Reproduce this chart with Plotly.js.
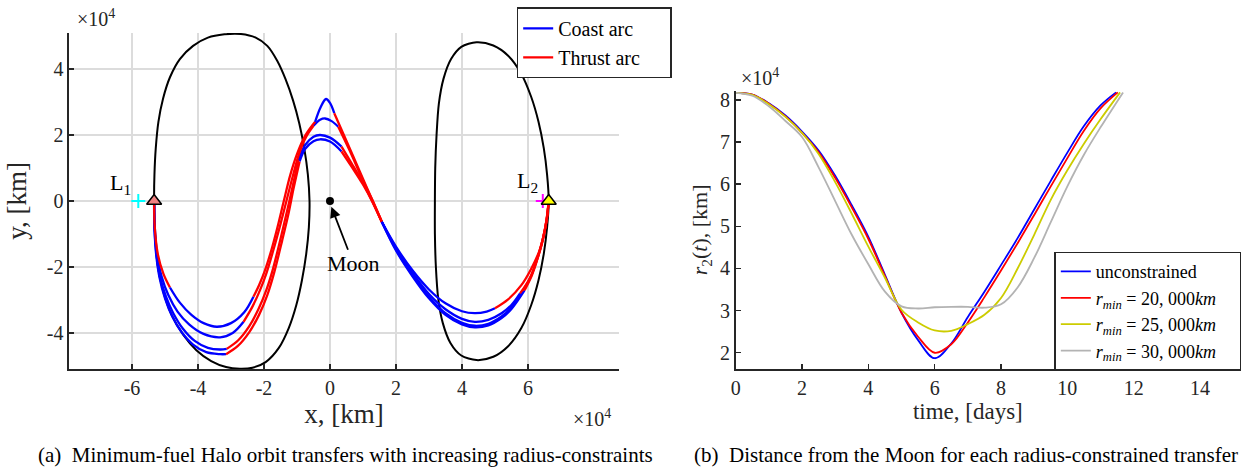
<!DOCTYPE html>
<html>
<head>
<meta charset="utf-8">
<script src="https://cdn.plot.ly/plotly-3.0.1.min.js"></script>
<style>html,body{margin:0;padding:0;background:#fff;}#chart{width:1255px;height:472px;}</style>
</head>
<body>
<div id="chart"></div>
<script>
// ---------- (a) data, units of 1e4 km ----------
const haloL1X = [-5.33,-5.32,-5.28,-5.20,-5.06,-4.85,-4.55,-4.15,-3.70,-3.20,-2.70,-2.25,-1.90,-1.60,-1.35,-1.12,-0.93,-0.78,-0.67,-0.62,-0.64,-0.72,-0.85,-1.02,-1.25,-1.55,-1.95,-2.35,-2.73,-3.15,-3.60,-4.05,-4.45,-4.80,-5.05,-5.22,-5.30,-5.33];
const haloL1Y = [0,0.80,1.60,2.40,3.10,3.75,4.30,4.70,4.95,5.05,5.06,4.95,4.70,4.25,3.70,3.05,2.35,1.60,0.80,0,-0.80,-1.60,-2.40,-3.15,-3.85,-4.45,-4.88,-5.05,-5.08,-5.03,-4.85,-4.52,-4.05,-3.45,-2.75,-1.95,-1.00,0];
const haloL2X = [6.63,6.58,6.48,6.32,6.10,5.80,5.40,4.95,4.44,3.98,3.65,3.42,3.28,3.21,3.18,3.18,3.19,3.23,3.30,3.44,3.67,3.98,4.44,4.95,5.40,5.80,6.10,6.32,6.48,6.58,6.63];
const haloL2Y = [0,-0.80,-1.60,-2.40,-3.15,-3.85,-4.40,-4.72,-4.82,-4.68,-4.30,-3.70,-2.95,-2.00,-1.00,0,1.00,2.00,2.95,3.70,4.30,4.67,4.81,4.71,4.40,3.85,3.15,2.40,1.60,0.80,0];

// each transfer: points, plus run-length list of arc types (C = coast, T = thrust)
const transferAX = [-5.33,-5.32,-5.27,-5.17,-5.00,-4.78,-4.50,-4.15,-3.75,-3.33,-3.15,-2.80,-2.45,-2.15,-1.90,-1.70,-1.45,-1.25,-1.10,-0.92,-0.75,-0.50,-0.30,0.00,0.35,0.65,1.00,1.30,1.57,2.00,2.50,3.00,3.50,4.00,4.39,4.80,5.20,5.50,5.90,6.12,6.30,6.46,6.57,6.63];
const transferAY = [0,-0.80,-1.60,-2.30,-2.95,-3.50,-3.97,-4.35,-4.58,-4.64,-4.64,-4.40,-3.98,-3.45,-2.85,-2.20,-1.20,-0.35,0.40,1.20,1.58,1.81,1.87,1.80,1.50,1.05,0.50,-0.05,-0.63,-1.50,-2.28,-2.95,-3.45,-3.74,-3.83,-3.77,-3.55,-3.27,-2.70,-2.25,-1.72,-1.12,-0.55,0];
const transferAArcs = ['C','T','C','T','C','T'];
const transferALens = [10,9,5,4,10,6];

const transferBX = [-5.33,-5.32,-5.26,-5.15,-4.97,-4.75,-4.45,-4.10,-3.70,-3.33,-3.13,-2.78,-2.45,-2.17,-1.93,-1.74,-1.50,-1.30,-1.13,-0.96,-0.75,-0.50,-0.30,0.00,0.35,0.65,1.00,1.30,1.57,2.00,2.50,3.00,3.50,4.00,4.39,4.80,5.20,5.50,5.85,6.10,6.28,6.45,6.57,6.63];
const transferBY = [0,-0.80,-1.60,-2.30,-2.90,-3.40,-3.88,-4.24,-4.45,-4.50,-4.48,-4.22,-3.80,-3.28,-2.70,-2.10,-1.15,-0.30,0.45,1.24,1.70,1.95,2.00,1.92,1.65,1.15,0.55,-0.05,-0.63,-1.47,-2.24,-2.90,-3.40,-3.69,-3.78,-3.72,-3.50,-3.22,-2.72,-2.25,-1.75,-1.15,-0.55,0];
const transferBArcs = ['C','T','C','T','C','T'];
const transferBLens = [10,9,5,4,10,6];

const transferCX = [-5.33,-5.31,-5.24,-5.10,-4.90,-4.62,-4.27,-3.85,-3.33,-2.95,-2.62,-2.35,-2.12,-1.93,-1.72,-1.50,-1.32,-1.12,-0.93,-0.72,-0.50,-0.30,-0.15,0.05,0.25,0.60,1.00,1.30,1.57,2.00,2.50,3.00,3.50,4.00,4.39,4.80,5.20,5.50,5.76,6.06,6.25,6.42,6.55,6.63];
const transferCY = [0,-0.80,-1.60,-2.30,-2.85,-3.35,-3.74,-4.02,-4.13,-4.00,-3.66,-3.20,-2.70,-2.20,-1.50,-0.70,0.00,0.78,1.45,1.95,2.28,2.46,2.50,2.42,2.25,1.52,0.62,0.00,-0.63,-1.43,-2.18,-2.82,-3.28,-3.57,-3.66,-3.60,-3.40,-3.15,-2.80,-2.34,-1.85,-1.30,-0.65,0];
const transferCArcs = ['C','T','C','T','C','T'];
const transferCLens = [10,10,4,4,10,6];

const transferDX = [-5.33,-5.31,-5.22,-5.05,-4.85,-4.55,-4.20,-3.83,-3.43,-3.00,-2.60,-2.32,-2.15,-1.97,-1.78,-1.58,-1.40,-1.20,-1.00,-0.75,-0.45,-0.28,-0.12,0.00,0.13,0.50,0.90,1.25,1.57,2.00,2.50,3.00,3.50,4.00,4.39,4.75,5.00,5.40,5.80,6.10,6.35,6.52,6.60,6.63];
const transferDY = [0,-0.80,-1.60,-2.20,-2.62,-3.08,-3.45,-3.70,-3.81,-3.70,-3.37,-2.90,-2.55,-2.10,-1.50,-0.75,0.00,0.80,1.42,1.98,2.40,2.85,3.09,2.97,2.66,1.82,0.90,0.10,-0.63,-1.38,-2.10,-2.68,-3.10,-3.34,-3.40,-3.35,-3.25,-2.98,-2.55,-2.05,-1.50,-0.85,-0.30,0];
const transferDArcs = ['T','C','T','C','T','C','T'];
const transferDLens = [4,7,9,4,4,8,8];

const lagrangeX = [-5.33, 6.63];
const lagrangeY = [0, 0];
const lagrangeNames = ['L<sub>1</sub>', 'L<sub>2</sub>'];
const moonX = [0.0], moonY = [0.0];
const xTicksA = [-6,-4,-2,0,2,4,6];
const xTickTextA = ['-6','-4','-2','0','2','4','6'];
const yTicksA = [-4,-2,0,2,4];
const yTickTextA = ['-4','-2','0','2','4'];
const legendNamesA = ['Coast arc', 'Thrust arc'];

// ---------- (b) data, r2 in units of 1e4 km ----------
const timeUnc = [0,0.5,1,1.5,2,2.5,3,3.5,4,4.5,5,5.5,6,6.5,7,7.5,8,8.5,9,9.5,10,10.5,11,11.47];
const r2Unc   = [8.17,8.13,7.92,7.63,7.25,6.80,6.20,5.50,4.75,3.85,2.95,2.30,1.87,2.22,2.85,3.45,4.08,4.72,5.40,6.08,6.75,7.38,7.87,8.18];
const time20  = [0,0.5,1,1.5,2,2.5,3,3.5,4,4.5,5,5.5,6,6.5,7,7.5,8,8.5,9,9.5,10,10.5,11,11.52];
const r2_20   = [8.17,8.13,7.91,7.61,7.22,6.76,6.15,5.45,4.70,3.82,2.95,2.38,2.00,2.20,2.72,3.32,3.95,4.60,5.27,5.95,6.62,7.27,7.80,8.18];
const time25  = [0,0.5,1,1.5,2,2.5,3,3.5,4,4.5,5,5.5,6,6.5,7,7.5,8,8.5,9,9.5,10,10.5,11,11.59];
const r2_25   = [8.17,8.12,7.90,7.60,7.22,6.72,6.05,5.30,4.52,3.78,3.02,2.72,2.53,2.52,2.68,2.90,3.30,4.00,4.80,5.63,6.33,6.96,7.54,8.18];
const time30  = [0,0.5,1,1.5,2,2.5,3,3.5,4,4.5,5,5.5,6,6.5,7,7.5,8,8.5,9,9.5,10,10.5,11,11.68];
const r2_30   = [8.17,8.10,7.85,7.50,7.12,6.40,5.60,4.80,4.10,3.45,3.10,3.05,3.08,3.09,3.09,3.07,3.15,3.55,4.25,5.10,5.95,6.70,7.35,8.18];
const seriesNamesB = ['unconstrained',
  '<i>r</i><sub><i>min</i></sub> = 20, 000<i>km</i>',
  '<i>r</i><sub><i>min</i></sub> = 25, 000<i>km</i>',
  '<i>r</i><sub><i>min</i></sub> = 30, 000<i>km</i>'];
const seriesColorsB = ['#0000ff','#ff0000','#cccc00','#b3b3b3'];
const xTicksB = [0,2,4,6,8,10,12,14];
const yTicksB = [2,3,4,5,6,7,8];

// ---------- build traces ----------
const COAST = '#0000ff', THRUST = '#ff0000', AXC = '#262626';
const PAD_A = '\u00a0\u00a0\u00a0\u00a0\u00a0';
const PAD_B = '\u00a0\u00a0\u00a0\u00a0';
function splitArcs(xs, ys, types, lens) {
  const arc = [];
  types.forEach((t, k) => { for (let j = 0; j < lens[k]; j++) arc.push(t); });
  const runs = []; let cur = null;
  for (let i = 0; i < xs.length - 1; i++) {
    if (!cur || cur.type !== arc[i]) { cur = {type: arc[i], x: [xs[i]], y: [ys[i]]}; runs.push(cur); }
    cur.x.push(xs[i + 1]); cur.y.push(ys[i + 1]);
  }
  return runs;
}
const traces = [];
[[haloL1X, haloL1Y], [haloL2X, haloL2Y]].forEach(([x, y]) => {
  traces.push({x: x, y: y, mode: 'lines', line: {color: '#000', width: 2, shape: 'spline', smoothing: 0.8}, showlegend: false, hoverinfo: 'skip'});
});
let coastShown = false, thrustShown = false;
[[transferAX, transferAY, transferAArcs, transferALens], [transferBX, transferBY, transferBArcs, transferBLens],
 [transferCX, transferCY, transferCArcs, transferCLens], [transferDX, transferDY, transferDArcs, transferDLens]].forEach(([xs, ys, types, lens]) => {
  splitArcs(xs, ys, types, lens).forEach(run => {
    const isCoast = run.type === 'C';
    let show = false;
    if (isCoast && !coastShown) { show = true; coastShown = true; }
    if (!isCoast && !thrustShown) { show = true; thrustShown = true; }
    traces.push({x: run.x, y: run.y, mode: 'lines', name: (isCoast ? legendNamesA[0] : legendNamesA[1]) + PAD_A,
      legendgroup: isCoast ? 'coast' : 'thrust', legendrank: isCoast ? 1 : 2, showlegend: show, legend: 'legend',
      line: {color: isCoast ? COAST : THRUST, width: 2.3, shape: 'spline', smoothing: 1}, hoverinfo: 'skip'});
  });
});
traces.push({x: [-5.81], y: [0], mode: 'markers', marker: {symbol: 'cross-thin', size: 10, line: {color: '#00ffff', width: 2}}, showlegend: false});
traces.push({x: [6.45], y: [0], mode: 'markers', marker: {symbol: 'cross-thin', size: 10, line: {color: '#ff00ff', width: 2}}, showlegend: false});
traces.push({x: lagrangeX, y: lagrangeY, mode: 'markers', marker: {symbol: 'triangle-up', size: 13, color: ['#f08080', '#ffff00'], line: {color: '#000', width: 1.5}}, showlegend: false});
traces.push({x: moonX, y: moonY, mode: 'markers', marker: {symbol: 'circle', size: 8, color: '#000'}, showlegend: false});

[[timeUnc, r2Unc], [time20, r2_20], [time25, r2_25], [time30, r2_30]].forEach(([t, r], i) => {
  traces.push({x: t, y: r, xaxis: 'x2', yaxis: 'y2', mode: 'lines', name: seriesNamesB[i] + PAD_B, legend: 'legend2',
    line: {color: seriesColorsB[i], width: 1.8, shape: 'spline', smoothing: 1}, hoverinfo: 'skip'});
});

const axisCommon = {ticks: 'inside', ticklen: 5, tickwidth: 1.5, tickcolor: AXC, showline: true, linecolor: AXC,
  linewidth: 1.6, zeroline: false, mirror: false, tickfont: {size: 20, color: AXC}, fixedrange: true};

function paperNote(px, py, text, size, color) {
  return {x: px / 1255, y: 1 - py / 472, xref: 'paper', yref: 'paper', xanchor: 'center', yanchor: 'middle',
    text: text, showarrow: false, font: {size: size, color: color}};
}

const layout = {
  width: 1255, height: 472, autosize: false, margin: {l: 0, r: 0, t: 0, b: 0},
  paper_bgcolor: '#ffffff', plot_bgcolor: 'rgba(0,0,0,0)',
  font: {family: '"Liberation Serif", "Times New Roman", serif', color: AXC},
  showlegend: true,
  xaxis: Object.assign({}, axisCommon, {domain: [0.05498, 0.49323], range: [-7.91, 8.76], anchor: 'y',
    tickmode: 'array', tickvals: xTicksA, ticktext: xTickTextA, showgrid: true, gridcolor: '#dcdcdc', gridwidth: 1.5,
    title: {text: 'x, [km]', font: {size: 27, color: AXC}, standoff: 5}}),
  yaxis: Object.assign({}, axisCommon, {domain: [0.21822, 0.93008], range: [-5.09, 5.09], anchor: 'x',
    tickmode: 'array', tickvals: yTicksA, ticktext: yTickTextA, showgrid: true, gridcolor: '#dcdcdc', gridwidth: 1.5,
    title: {text: 'y, [km]', font: {size: 27, color: AXC}, standoff: 12}}),
  xaxis2: Object.assign({}, axisCommon, {domain: [0.58622, 0.95618], range: [0, 14], anchor: 'y2',
    tickmode: 'array', tickvals: xTicksB, showgrid: false,
    title: {text: 'time, [days]', font: {size: 23, color: AXC}, standoff: 5}}),
  yaxis2: Object.assign({}, axisCommon, {domain: [0.21822, 0.80784], range: [1.614, 8.22], anchor: 'x2',
    tickmode: 'array', tickvals: yTicksB, showgrid: false,
    title: {text: '<i>r</i><sub>2</sub>(<i>t</i>), [km]', font: {size: 22, color: AXC}, standoff: 6}}),
  legend: {x: 0.4117, xanchor: 'left', y: 0.9845, yanchor: 'top', bgcolor: '#ffffff', bordercolor: AXC, borderwidth: 1.5,
    font: {size: 20, color: '#000'}, tracegroupgap: 0, traceorder: 'normal'},
  legend2: {x: 0.8401, xanchor: 'left', y: 0.4667, yanchor: 'top', bgcolor: '#ffffff', bordercolor: AXC, borderwidth: 1.5,
    font: {size: 18, color: '#000'}, tracegroupgap: 0, traceorder: 'normal'},
  annotations: [
    {x: 0.02, y: -0.12, xref: 'x', yref: 'y', ax: 0.71, ay: -1.90, axref: 'x', ayref: 'y', text: 'Moon', showarrow: true,
     arrowhead: 2, arrowsize: 1.2, arrowwidth: 1.8, arrowcolor: '#000', font: {size: 22, color: '#000'}, standoff: 2},
    {x: -5.97, y: 0.52, xref: 'x', yref: 'y', text: lagrangeNames[0], showarrow: false, xanchor: 'right', yanchor: 'middle', font: {size: 22, color: '#000'}},
    {x: 6.36, y: 0.58, xref: 'x', yref: 'y', text: lagrangeNames[1], showarrow: false, xanchor: 'right', yanchor: 'middle', font: {size: 22, color: '#000'}},
    paperNote(96, 18, '×10<sup>4</sup>', 20, AXC),
    paperNote(592, 418, '×10<sup>4</sup>', 20, AXC),
    paperNote(760, 77, '×10<sup>4</sup>', 20, AXC),
    paperNote(345, 455, '(a)  Minimum-fuel Halo orbit transfers with increasing radius-constraints', 21, '#000'),
    paperNote(966, 455, '(b)  Distance from the Moon for each radius-constrained transfer', 21, '#000')
  ]
};
Plotly.newPlot('chart', traces, layout, {staticPlot: true, displayModeBar: false});
</script>
</body>
</html>
